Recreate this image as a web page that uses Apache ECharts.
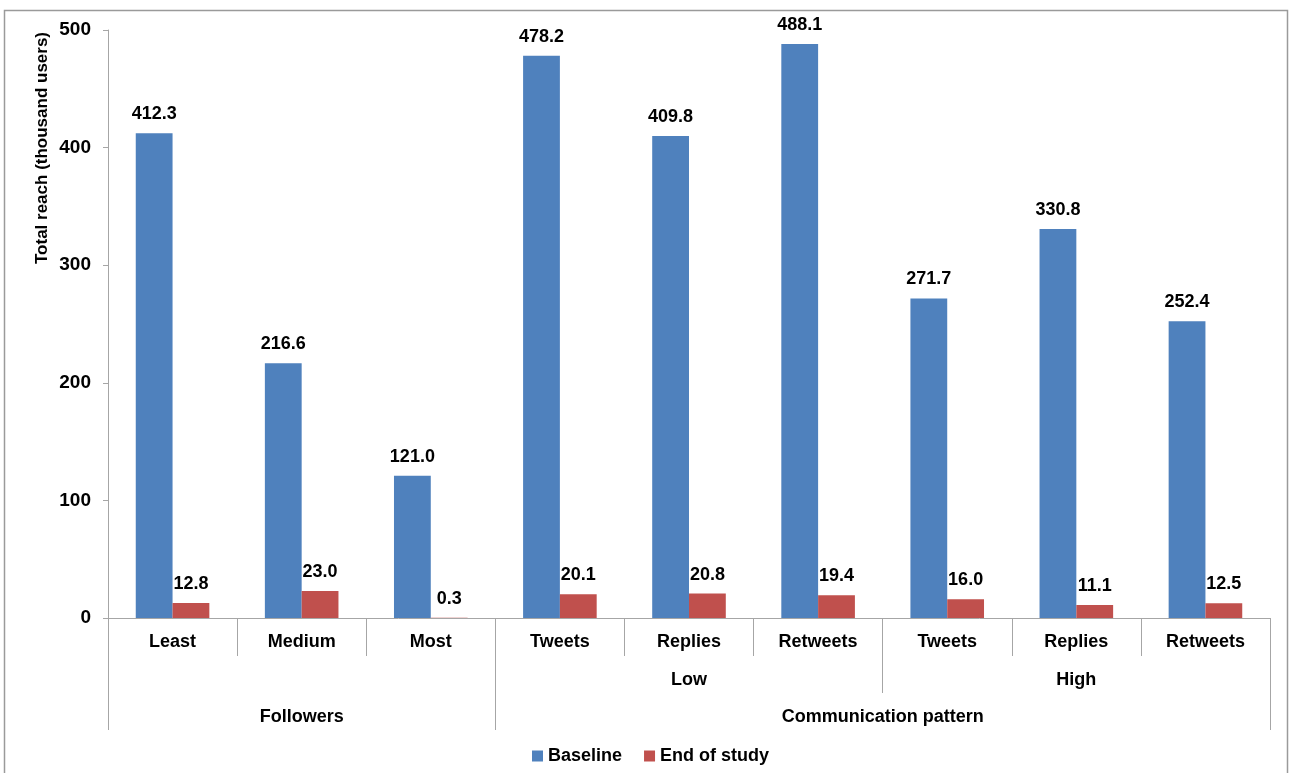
<!DOCTYPE html>
<html>
<head>
<meta charset="utf-8">
<script src="https://cdn.jsdelivr.net/npm/echarts@6/dist/echarts.min.js"></script>
<style>
  html, body { margin: 0; padding: 0; background: #fff; }
  #chart { width: 1290px; height: 773px; }
</style>
</head>
<body>
<div id="chart"></div>
<script>
// Category labels (first level of the x axis)
const categories = ['Least', 'Medium', 'Most', 'Tweets', 'Replies', 'Retweets', 'Tweets', 'Replies', 'Retweets'];

// Series values (thousand users)
const baseline = [412.3, 216.6, 121.0, 478.2, 409.8, 488.1, 271.7, 330.8, 252.4];
const endOfStudy = [12.8, 23.0, 0.3, 20.1, 20.8, 19.4, 16.0, 11.1, 12.5];

// Second-level groups (category index ranges)
const subGroupNames = ['Low', 'High'];
const subGroupRanges = [[3, 6], [6, 9]];

// Third-level groups (category index ranges)
const groupNames = ['Followers', 'Communication pattern'];
const groupRanges = [[0, 3], [3, 9]];

// Y axis ticks
const yTicks = [0, 100, 200, 300, 400, 500];

const FONT = "'Liberation Sans', Arial, sans-serif";
const AXIS_GRAY = '#a6a6a6';

function boundaries(ranges, extra) {
  const s = new Set(extra);
  ranges.forEach(r => { s.add(r[0]); s.add(r[1]); });
  return Array.from(s).sort((a, b) => a - b);
}
function mids(ranges) { return ranges.map(r => (r[0] + r[1]) / 2); }
function nameAt(ranges, names, v) {
  const i = ranges.findIndex(r => Math.abs((r[0] + r[1]) / 2 - v) < 1e-6);
  return i >= 0 ? names[i] : '';
}

const labelStyle = { fontFamily: FONT, fontWeight: 'bold', fontSize: 18, color: '#000' };

// Value axis spanning the same extent as the categories, used to draw a
// grouped level of the x axis (separators at group edges, names at centres).
function groupAxis(offset, ranges, names, extraBounds) {
  return {
    type: 'value',
    gridIndex: 0,
    position: 'bottom',
    offset: offset,
    min: 0,
    max: categories.length,
    axisLine: { show: false },
    splitLine: { show: false },
    axisTick: {
      show: true,
      length: 37,
      customValues: boundaries(ranges, extraBounds),
      lineStyle: { color: AXIS_GRAY, width: 1 }
    },
    axisLabel: Object.assign({
      margin: 15,
      customValues: mids(ranges),
      formatter: v => nameAt(ranges, names, v)
    }, labelStyle)
  };
}

const chart = echarts.init(document.getElementById('chart'), null, { renderer: 'canvas' });

chart.setOption({
  animation: false,
  backgroundColor: '#fff',
  grid: { left: 108, right: 20, top: 30, bottom: 155, containLabel: false },
  legend: {
    bottom: 3,
    left: 527,
    itemWidth: 11,
    itemHeight: 11,
    itemGap: 22,
    icon: 'rect',
    textStyle: Object.assign({}, labelStyle, { fontSize: 18 }),
    data: ['Baseline', 'End of study']
  },
  xAxis: [
    {
      type: 'category',
      data: categories,
      position: 'bottom',
      axisLine: { show: true, lineStyle: { color: AXIS_GRAY, width: 1 } },
      axisTick: { show: true, interval: 0, length: 38, lineStyle: { color: AXIS_GRAY, width: 1 } },
      axisLabel: Object.assign({ interval: 0, margin: 15 }, labelStyle)
    },
    groupAxis(38, subGroupRanges, subGroupNames, [0]),
    groupAxis(75, groupRanges, groupNames, [])
  ],
  yAxis: {
    type: 'value',
    min: yTicks[0],
    max: yTicks[yTicks.length - 1],
    interval: yTicks[1] - yTicks[0],
    axisLine: { show: true, lineStyle: { color: AXIS_GRAY } },
    axisTick: { show: true, length: 5, lineStyle: { color: AXIS_GRAY } },
    splitLine: { show: false },
    axisLabel: Object.assign({ margin: 17 }, labelStyle, { fontSize: 19 })
  },
  series: [
    {
      name: 'Baseline',
      type: 'bar',
      xAxisIndex: 0,
      data: baseline,
      barGap: '0%',
      barCategoryGap: '43%',
      itemStyle: { color: '#4f81bd' },
      label: Object.assign({ show: true, position: 'top', distance: 10, formatter: p => p.value.toFixed(1) }, labelStyle)
    },
    {
      name: 'End of study',
      type: 'bar',
      xAxisIndex: 0,
      data: endOfStudy,
      barGap: '0%',
      barCategoryGap: '43%',
      itemStyle: { color: '#c0504d' },
      label: Object.assign({ show: true, position: 'top', distance: 10, formatter: p => p.value.toFixed(1) }, labelStyle)
    }
  ],
  graphic: [
    {
      type: 'rect',
      silent: true,
      shape: { x: 4.5, y: 10.5, width: 1283, height: 780 },
      style: { fill: 'none', stroke: '#9a9a9a', lineWidth: 1.5 }
    },
    {
      type: 'text',
      silent: true,
      x: 42,
      y: 148,
      rotation: Math.PI / 2,
      style: {
        text: 'Total reach (thousand users)',
        fontFamily: FONT,
        fontWeight: 'bold',
        fontSize: 17,
        fill: '#000',
        align: 'center',
        verticalAlign: 'middle'
      }
    }
  ]
});
</script>
</body>
</html>
